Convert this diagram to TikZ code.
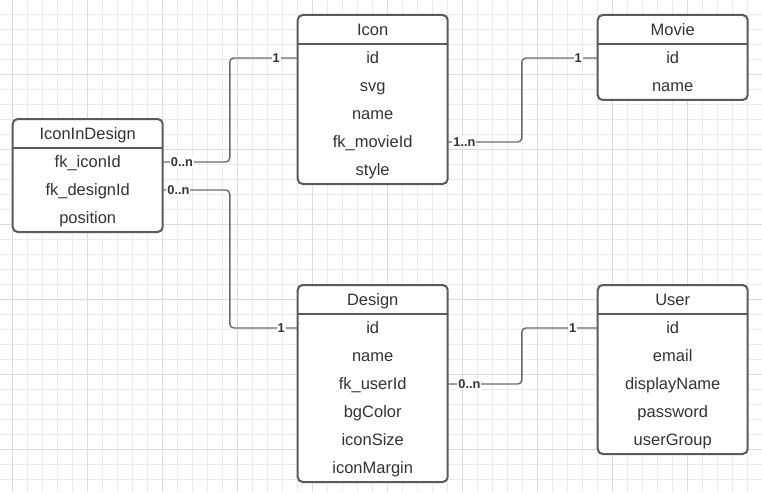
\documentclass[tikz,border=0pt]{standalone}
\usepackage{fontspec}
\setmainfont{Liberation Sans}
\usetikzlibrary{calc}
\definecolor{gridminor}{HTML}{EBEBEB}
\definecolor{gridmajor}{HTML}{DCDCDC}
\definecolor{boxline}{HTML}{5A5A5A}
\definecolor{connline}{HTML}{6A6A6A}
\definecolor{txt}{HTML}{333333}
\begin{document}
\begin{tikzpicture}[x=1pt,y=-1pt,
  entity/.style={draw=boxline, line width=2pt, rounded corners=5pt, fill=white,
    minimum width=150pt, anchor=north west, inner sep=0pt, outer sep=0pt},
  row/.style={minimum width=150pt, minimum height=28pt, inner sep=0pt, outer sep=0pt,
    text height=11.8pt, text depth=0pt, font=\fontsize{16.5}{18}\selectfont, text=txt, anchor=north},
  titlerow/.style={row, minimum height=29pt},
  boxrule/.style={draw=boxline, line width=2pt},
  conn/.style={draw=connline, line width=1.4pt, rounded corners=4pt},
  card/.style={fill=white, inner sep=1pt, text=txt, font=\bfseries\fontsize{12.8}{14}\selectfont},
  minorgrid/.style={draw=gridminor, line width=1pt},
  majorgrid/.style={draw=gridmajor, line width=1pt}
]
\useasboundingbox (0,0) rectangle (762,492);
\fill[white] (0,0) rectangle (762,492);
% grid
\begin{scope}
\clip (0,0) rectangle (762,492);
\foreach \i in {0,...,50} { \draw[minorgrid] ({12.7+15*\i},0) -- ({12.7+15*\i},492); }
\foreach \j in {0,...,32} { \draw[minorgrid] (0,{14.3+15*\j}) -- (762,{14.3+15*\j}); }
\foreach \i in {0,...,10} { \draw[majorgrid] ({12.7+75*\i},0) -- ({12.7+75*\i},492); }
\foreach \j in {1,...,6} { \draw[majorgrid] (0,{-0.7+75*\j}) -- (762,{-0.7+75*\j}); }
\end{scope}

% IconInDesign
\node[entity, minimum height=113pt] (iid) at (12.7,119) {};
\node[titlerow] (iidT) at (iid.north) {IconInDesign};
\draw[boxrule] (iidT.south west) -- (iidT.south east);
\node[row] (iidIcon) at (iidT.south) {fk\_iconId};
\node[row] (iidDesign) at (iidIcon.south) {fk\_designId};
\node[row] (iidPos) at (iidDesign.south) {position};

% Icon
\node[entity, minimum height=169pt] (icon) at (297.7,15) {};
\node[titlerow] (iconT) at (icon.north) {Icon};
\draw[boxrule] (iconT.south west) -- (iconT.south east);
\node[row] (iconId) at (iconT.south) {id};
\node[row] (iconSvg) at (iconId.south) {svg};
\node[row] (iconName) at (iconSvg.south) {name};
\node[row] (iconMovie) at (iconName.south) {fk\_movieId};
\node[row] (iconStyle) at (iconMovie.south) {style};

% Movie
\node[entity, minimum height=85pt] (movie) at (597.7,15) {};
\node[titlerow] (movieT) at (movie.north) {Movie};
\draw[boxrule] (movieT.south west) -- (movieT.south east);
\node[row] (movieId) at (movieT.south) {id};
\node[row] (movieName) at (movieId.south) {name};

% Design
\node[entity, minimum height=197pt] (design) at (297.7,285) {};
\node[titlerow] (designT) at (design.north) {Design};
\draw[boxrule] (designT.south west) -- (designT.south east);
\node[row] (designId) at (designT.south) {id};
\node[row] (designName) at (designId.south) {name};
\node[row] (designUser) at (designName.south) {fk\_userId};
\node[row] (designBg) at (designUser.south) {bgColor};
\node[row] (designSize) at (designBg.south) {iconSize};
\node[row] (designMargin) at (designSize.south) {iconMargin};

% User
\node[entity, minimum height=169pt] (user) at (597.7,285) {};
\node[titlerow] (userT) at (user.north) {User};
\draw[boxrule] (userT.south west) -- (userT.south east);
\node[row] (userId) at (userT.south) {id};
\node[row] (userEmail) at (userId.south) {email};
\node[row] (userDisplay) at (userEmail.south) {displayName};
\node[row] (userPwd) at (userDisplay.south) {password};
\node[row] (userGroup) at (userPwd.south) {userGroup};

% connector junction columns
\coordinate (jA) at (229.8,0);
\coordinate (jB) at (521.8,0);

% IconInDesign.fk_iconId -> Icon.id
\draw[conn] (iidIcon.east) -- (iidIcon.east -| jA) -- (iconId.west -| jA) -- (iconId.west);
\node[card, anchor=west] at ([xshift=7pt]iidIcon.east) {0..n};
\node[card] at ([xshift=-21.5pt]iconId.west) {1};

% IconInDesign.fk_designId -> Design.id
\draw[conn] (iidDesign.east) -- (iidDesign.east -| jA) -- (designId.west -| jA) -- (designId.west);
\node[card, anchor=west] at ([xshift=3.5pt]iidDesign.east) {0..n};
\node[card] at ([xshift=-16.5pt]designId.west) {1};

% Icon.fk_movieId -> Movie.id
\draw[conn] (iconMovie.east) -- (iconMovie.east -| jB) -- (movieId.west -| jB) -- (movieId.west);
\node[card, anchor=west] at ([xshift=4.5pt]iconMovie.east) {1..n};
\node[card] at ([xshift=-19.5pt]movieId.west) {1};

% Design.fk_userId -> User.id
\draw[conn] (designUser.east) -- (designUser.east -| jB) -- (userId.west -| jB) -- (userId.west);
\node[card, anchor=west] at ([xshift=9.5pt]designUser.east) {0..n};
\node[card] at ([xshift=-25pt]userId.west) {1};
\end{tikzpicture}
\end{document}
